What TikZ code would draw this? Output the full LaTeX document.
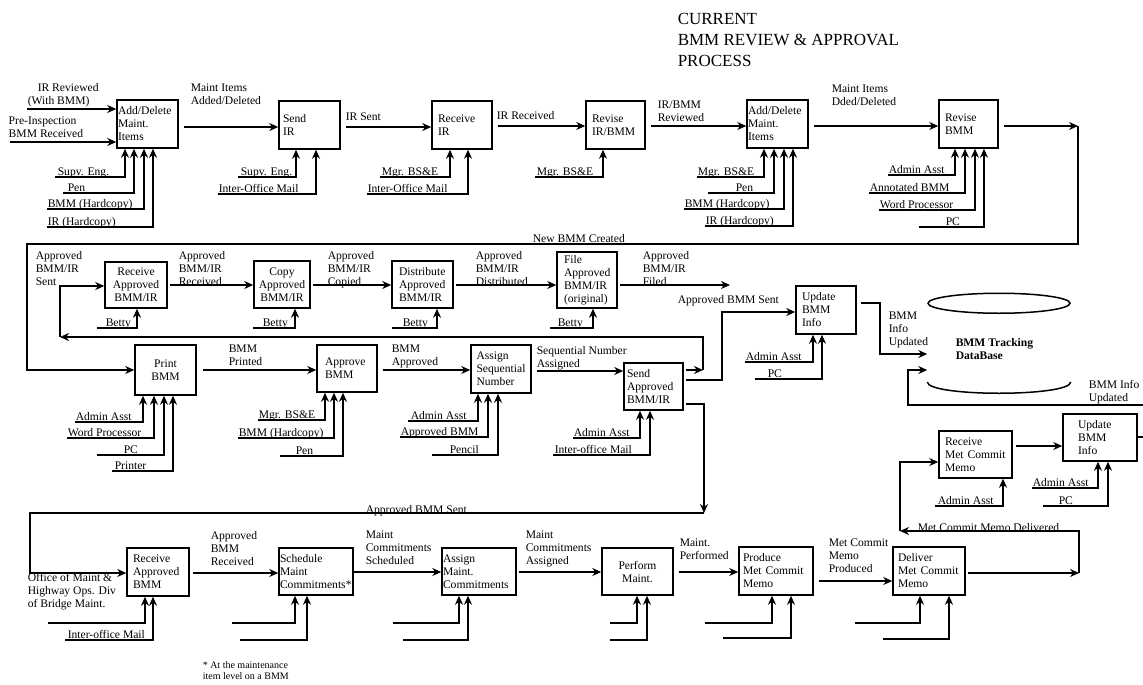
\documentclass[tikz,border=0pt]{standalone}
\usepackage{fontspec}
\setmainfont{Liberation Serif}
\usetikzlibrary{arrows.meta}
\newcommand\lblfont{\fontsize{11.6}{13}\selectfont}
\newcommand\ttlfont{\fontsize{17}{21}\selectfont}
\newcommand\notefont{\fontsize{10}{11}\selectfont}
% mechanism arrow with its label: name, text, text x, line start x, line y, box, arrow x
\newcommand\mecharrow[7]{%
  \node[lbl, anchor=base west] (#1) at (#3,#5-1.5) {#2};
  \draw[arr] (#4,#5) -| (#6.south -| #7,0);
}
% mechanism arrow without label: line start x, line y, box, arrow x
\newcommand\mechline[4]{%
  \draw[arr] (#1,#2) -| (#3.south -| #4,0);
}
\begin{document}
\begin{tikzpicture}[x=1pt, y=-1pt, line width=1.5pt,
  arr/.style={-{Stealth[length=9pt,width=8pt]}},
  proc/.style={draw, font=\lblfont, align=left, inner ysep=1pt},
  lbl/.style={font=\lblfont, inner sep=0pt, align=left},
]
\useasboundingbox (0,0) rectangle (1143,685);

% title
\node[lbl, font=\ttlfont, anchor=north west] (title) at (677,12) {CURRENT\\BMM REVIEW \& APPROVAL\\PROCESS};

% ---------- row 1 ----------
\node[proc, inner xsep=1pt, text width=59pt, minimum height=48pt] (a1) at (147.5,124) {Add/Delete\\Maint.\\Items};
\node[proc, inner xsep=4pt, text width=53pt, minimum height=48pt] (a2) at (309.5,125) {Send\\IR};
\node[proc, inner xsep=6pt, text width=48pt, minimum height=48pt] (a3) at (462,125) {Receive\\IR};
\node[proc, inner xsep=6pt, text width=47pt, minimum height=48pt] (a4) at (615.5,125) {Revise\\IR/BMM};
\node[proc, inner xsep=1pt, text width=59pt, minimum height=48pt] (a5) at (777.5,124) {Add/Delete\\Maint.\\Items};
\node[proc, inner xsep=6pt, text width=47pt, minimum height=48pt] (a6) at (968.5,124) {Revise\\BMM};

\node[lbl, anchor=north west] (t1) at (27,82.5) {\hspace*{10pt}IR Reviewed\\(With BMM)};
\node[lbl, anchor=north west] (t2) at (8,116.5) {Pre-Inspection\\BMM Received};
\node[lbl, anchor=north west] (t3) at (190,83.5) {Maint Items\\Added/Deleted};
\node[lbl, anchor=north west] (t4) at (345,112) {IR Sent};
\node[lbl, anchor=north west] (t5) at (496,110.5) {IR Received};
\node[lbl, anchor=north west] (t6) at (657,100.5) {IR/BMM\\Reviewed};
\node[lbl, anchor=north west] (t7) at (831,84.5) {Maint Items\\Dded/Deleted};

\draw[arr] (27,109) -- (a1.west |- 0,109);
\draw[arr] (10,142) -- (a1.west |- 0,142);
\draw[arr, shorten <=5pt] (a1.east |- 0,127) -- (a2.west |- 0,127);
\draw[arr, shorten <=5pt] (a2.east |- 0,127) -- (a3.west |- 0,127);
\draw[arr, shorten <=5pt] (a3.east |- 0,126) -- (a4.west |- 0,126);
\draw[arr, shorten <=5pt] (a4.east |- 0,126) -- (a5.west |- 0,126);
\draw[arr, shorten <=5pt] (a5.east |- 0,126) -- (a6.west |- 0,126);
\coordinate (nbm) at (1078,126);
\draw[arr, shorten <=5pt] (a6.east |- 0,126) -- (nbm);

\mecharrow{m1}{Supv. Eng.}{57}{55}{177}{a1}{125}
\mecharrow{m2}{Pen}{67}{63}{193}{a1}{134}
\mecharrow{m3}{BMM (Hardcopy)}{47}{47}{209}{a1}{144}
\mecharrow{m4}{IR (Hardcopy)}{47}{47}{227}{a1}{153}
\mecharrow{m5}{Supv. Eng.}{240}{238}{177}{a2}{296}
\mecharrow{m6}{Inter-Office Mail}{218}{218}{194}{a2}{316}
\mecharrow{m7}{Mgr. BS\&E}{381}{380}{177}{a3}{450}
\mecharrow{m8}{Inter-Office Mail}{367}{367}{194}{a3}{468}
\mecharrow{m9}{Mgr. BS\&E}{536}{535}{177}{a4}{603}
\mecharrow{m10}{Mgr. BS\&E}{697}{697}{177}{a5}{764}
\mecharrow{m11}{Pen}{735}{708}{193}{a5}{774}
\mecharrow{m12}{BMM (Hardcopy)}{684}{684}{209}{a5}{784}
\mecharrow{m13}{IR (Hardcopy)}{705}{705}{226}{a5}{793}
\mecharrow{m14}{Admin Asst}{888}{888}{175}{a6}{955}
\mecharrow{m15}{Annotated BMM}{869}{869}{193}{a6}{965}
\mecharrow{m16}{Word Processor}{879}{879}{210}{a6}{975}
\mecharrow{m17}{PC}{945}{919}{227}{a6}{984}

% ---------- row 2 ----------
\node[proc, align=center, inner xsep=3pt, text width=56pt, minimum height=46pt] (b1) at (136,285) {Receive\\Approved\\BMM/IR};
\node[proc, align=center, inner xsep=3pt, text width=50pt, minimum height=47pt] (b2) at (282,284.5) {Copy\\Approved\\BMM/IR};
\node[proc, inner xsep=7pt, text width=47pt, minimum height=47pt] (b3) at (422.5,284.5) {Distribute\\Approved\\BMM/IR};
\node[proc, inner xsep=7pt, text width=46pt, minimum height=56pt] (b4) at (587,280) {File\\Approved\\BMM/IR\\(original)};
\node[proc, inner xsep=6pt, text width=48pt, minimum height=48pt] (b5) at (826,310) {Update\\BMM\\Info};

\node[proc, align=center, inner xsep=3pt, text width=55pt, minimum height=50pt] (c1) at (165.5,370) {Print\\BMM};
\node[proc, inner xsep=8pt, text width=44pt, minimum height=47pt] (c2) at (347,368.5) {Approve\\BMM};
\node[proc, inner xsep=5.5pt, text width=49pt, minimum height=48pt] (c3) at (501,369) {Assign\\Sequential\\Number};
\node[proc, inner xsep=3pt, text width=53pt, minimum height=47pt] (c4) at (653.5,386.5) {Send\\Approved\\BMM/IR};

\node[lbl, anchor=north west] (t8) at (532,234) {New BMM Created};
\node[lbl, anchor=north west] (t9) at (35,250.5) {Approved\\BMM/IR\\Sent};
\node[lbl, anchor=north west] (t10) at (178,250.5) {Approved\\BMM/IR\\Received};
\node[lbl, anchor=north west] (t11) at (327,250.5) {Approved\\BMM/IR\\Copied};
\node[lbl, anchor=north west] (t12) at (475,250.5) {Approved\\BMM/IR\\Distributed};
\node[lbl, anchor=north west] (t13) at (642,250.5) {Approved\\BMM/IR\\Filed};
\node[lbl, anchor=north west] (t14) at (677,294.5) {Approved BMM Sent};
\node[lbl, anchor=north west] (t15) at (228,344.5) {BMM\\Printed};
\node[lbl, anchor=north west] (t16) at (391,344.5) {BMM\\Approved};
\node[lbl, anchor=north west] (t17) at (536,345.5) {Sequential Number\\Assigned};
\node[lbl, anchor=north west] (t18) at (888,311.5) {BMM\\Info\\Updated};
\node[lbl, anchor=north west] (t19) at (1088,379.5) {BMM Info\\Updated};

% new BMM back to printing
\draw[arr] (nbm) -- (1078,244) -- (27,244) -- (27,370) -- (c1.west |- 0,370);

% approved BMM/IR loop to distribution chain
\coordinate (lp1) at (703,370);
\coordinate (lp2) at (60,337);
\draw[arr, shorten <=2pt] (c4.east |- 0,370) -- (lp1);
\draw[arr] (lp1) -- (703,337) -- (lp2);
\draw[arr] (lp2) -- (60,286) -- (b1.west |- 0,286);
\draw[arr, shorten <=2pt] (b1.east |- 0,285) -- (b2.west |- 0,285);
\draw[arr, shorten <=2pt] (b2.east |- 0,285) -- (b3.west |- 0,285);
\draw[arr, shorten <=2pt] (b3.east |- 0,285) -- (b4.west |- 0,285);
\coordinate (filed) at (730,285);
\draw[arr, shorten <=2pt] (b4.east |- 0,285) -- (filed);

\draw[arr, shorten <=6pt] (c1.east |- 0,370) -- (c2.west |- 0,370);
\draw[arr, shorten <=5pt] (c2.east |- 0,370) -- (c3.west |- 0,370);
\draw[arr, shorten <=5pt] (c3.east |- 0,371) -- (c4.west |- 0,371);
\draw[arr, shorten <=2pt] (c4.east |- 0,380) -- (722,380) -- (722,312) -- (b5.west |- 0,312);
\coordinate (sent) at (704,513);
\draw[arr, shorten <=2pt] (c4.east |- 0,404) -- (704,404) -- (sent);

\mecharrow{m18}{Betty}{105}{97}{328}{b1}{137}
\mecharrow{m19}{Betty}{262}{253}{328}{b2}{295}
\mecharrow{m20}{Betty}{402}{392}{328}{b3}{437}
\mecharrow{m21}{Betty}{557}{550}{328}{b4}{593}
\mecharrow{m22}{Admin Asst}{745}{745}{362}{b5}{813}
\mecharrow{m23}{PC}{767}{755}{379}{b5}{822}
\mecharrow{m24}{Admin Asst}{75}{75}{422}{c1}{143}
\mecharrow{m25}{Word Processor}{67}{67}{438}{c1}{154}
\mecharrow{m26}{PC}{123}{97}{455}{c1}{164}
\mecharrow{m27}{Printer}{114}{112}{471}{c1}{173}
\mecharrow{m28}{Mgr. BS\&E}{258}{258}{420}{c2}{325}
\mecharrow{m29}{BMM (Hardcopy)}{238}{238}{438}{c2}{334}
\mecharrow{m30}{Pen}{295}{280}{456}{c2}{343}
\mecharrow{m31}{Admin Asst}{410}{408}{421}{c3}{478}
\mecharrow{m32}{Approved BMM}{400}{400}{437}{c3}{488}
\mecharrow{m33}{Pencil}{449}{432}{455}{c3}{498}
\mecharrow{m34}{Admin Asst}{573}{573}{438}{c4}{640}
\mecharrow{m35}{Inter-office Mail}{554}{553}{455}{c4}{650}

% tracking database
\node[minimum width=142pt, minimum height=92pt, inner sep=0pt] (db) at (999,340) {};
\draw (db.north) ++(0,10) ellipse [x radius=71, y radius=10];
\draw (db.west |- 0,382) .. controls (928,397) and (1070,397) .. (db.east |- 0,382);
\node[lbl, font=\lblfont\bfseries, anchor=north west] (dbt) at (955,337.5) {BMM Tracking\\DataBase};
\draw[arr, shorten <=4pt] (b5.east |- 0,303) -- (880,303) -- (880,354) -- (db.west |- 0,354);
\draw[arr] (1143,405) -- (908,405) -- (908,370) -- (db.west |- 0,370);

% ---------- row 3 ----------
\node[proc, inner xsep=6pt, text width=50pt, minimum height=48pt] (d1) at (158,572) {Receive\\Approved\\BMM};
\node[proc, inner xsep=1pt, text width=72pt, minimum height=47pt] (d2) at (316,571.5) {Schedule\\Maint\\Commitments*};
\node[proc, inner xsep=1pt, text width=72pt, minimum height=47pt] (d3) at (479,571.5) {Assign\\Maint.\\Commitments};
\node[proc, align=center, inner xsep=3pt, text width=65pt, minimum height=47pt] (d4) at (637.5,571.5) {Perform\\Maint.};
\node[proc, inner xsep=4pt, text width=66pt, minimum height=48pt] (d5) at (776,571) {Produce\\Met Commit\\Memo};
\node[proc, inner xsep=5pt, text width=62pt, minimum height=48pt] (d6) at (929,571) {Deliver\\Met Commit\\Memo};
\node[proc, inner xsep=6pt, text width=61pt, minimum height=47pt] (d7) at (975.5,454.5) {Receive\\Met Commit\\Memo};
\node[proc, inner xsep=15pt, text width=44pt, minimum height=47pt] (d8) at (1100,437.5) {Update\\BMM\\Info};

\node[lbl, anchor=north west] (t20) at (365,505) {Approved BMM Sent};
\node[lbl, anchor=north west] (t21) at (27,572.5) {Office of Maint \&\\Highway Ops. Div\\of Bridge Maint.};
\node[lbl, anchor=north west] (t22) at (210,530.5) {Approved\\BMM\\Received};
\node[lbl, anchor=north west] (t23) at (365,530.5) {Maint\\Commitments\\Scheduled};
\node[lbl, anchor=north west] (t24) at (525,530.5) {Maint\\Commitments\\Assigned};
\node[lbl, anchor=north west] (t25) at (679,538.5) {Maint.\\Performed};
\node[lbl, anchor=north west] (t26) at (828,538.5) {Met Commit\\Memo\\Produced};
\node[lbl, anchor=north west] (t27) at (917,522.5) {Met Commit Memo Delivered};
\node[lbl, font=\notefont, anchor=north west] (t28) at (202,661) {* At the maintenance\\item level on a BMM};

\draw[arr] (sent) -- (30,513) -- (30,573) -- (d1.west |- 0,573);
\draw[arr, shorten <=3pt] (d1.east |- 0,573) -- (d2.west |- 0,573);
\draw[arr] (d2.east |- 0,572) -- (d3.west |- 0,572);
\draw[arr, shorten <=2pt] (d3.east |- 0,572) -- (d4.west |- 0,572);
\draw[arr, shorten <=5pt] (d4.east |- 0,572) -- (d5.west |- 0,572);
\draw[arr, shorten <=5pt] (d5.east |- 0,581) -- (d6.west |- 0,581);
\coordinate (dlv) at (1079,573);
\coordinate (dlv2) at (900,531);
\draw[arr, shorten <=2pt] (d6.east |- 0,573) -- (dlv);
\draw[arr] (dlv) -- (1079,531) -- (dlv2);
\draw[arr] (dlv2) -- (900,462) -- (d7.west |- 0,462);
\draw[arr, shorten <=3pt] (d7.east |- 0,446) -- (d8.west |- 0,446);
\draw (d8.east |- 0,437) -- (1143,437);

\mechline{48}{623}{d1}{145}
\mecharrow{m36}{Inter-office Mail}{67}{65}{640}{d1}{153}
\mechline{232}{623}{d2}{295}
\mechline{240}{640}{d2}{307}
\mechline{393}{623}{d3}{459}
\mechline{403}{640}{d3}{468}
\mechline{610}{623}{d4}{637}
\mechline{610}{640}{d4}{647}
\mechline{705}{623}{d5}{772}
\mechline{723}{638}{d5}{791}
\mechline{855}{623}{d6}{920}
\mechline{883}{639}{d6}{949}
\mecharrow{m37}{Admin Asst}{937}{935}{506}{d7}{1003}
\mecharrow{m38}{Admin Asst}{1032}{1032}{488}{d8}{1098}
\mecharrow{m39}{PC}{1058}{1043}{506}{d8}{1108}
\end{tikzpicture}
\end{document}
